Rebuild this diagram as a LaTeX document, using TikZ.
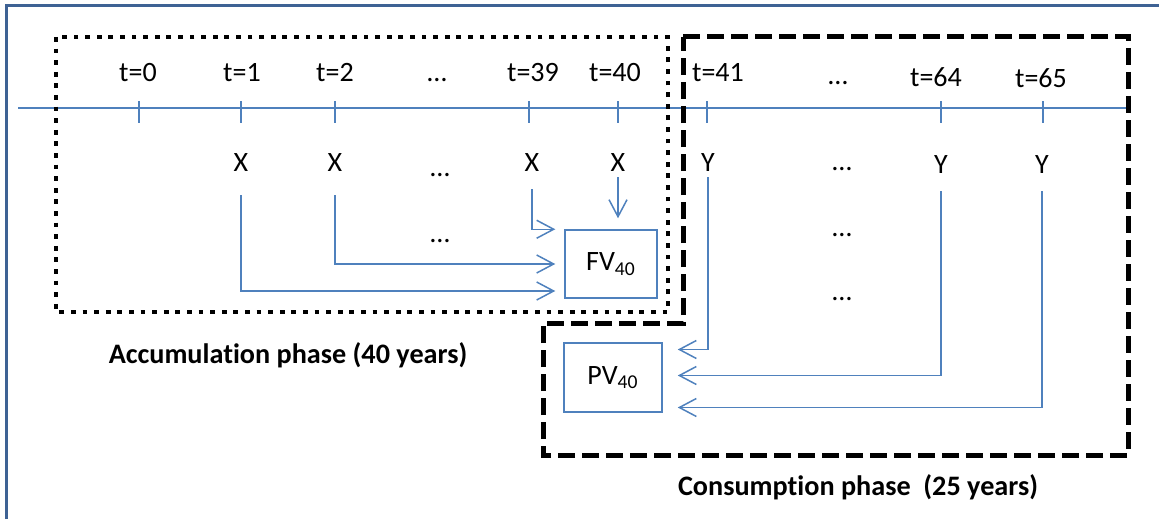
\documentclass[tikz,border=0pt]{standalone}
\usepackage{fontspec}
\setmainfont[Ligatures={TeX,NoCommon}]{Carlito}
\usepackage{xcolor}
\usepackage{tikz}
\usetikzlibrary{arrows.meta,calc}
\definecolor{flowblue}{RGB}{79,129,189}
\definecolor{frameblue}{RGB}{62,98,148}

\begin{document}
\begin{tikzpicture}[x=0.5pt,y=-0.5pt,
    lbl/.style={anchor=base,inner sep=0pt,font=\fontsize{14}{16}\selectfont},
    phase/.style={anchor=base,inner sep=0pt,font=\bfseries\fontsize{14.1}{16}\selectfont},
    valbox/.style={draw=flowblue,line width=0.75pt,inner sep=0pt,
                   font=\fontsize{14}{16}\selectfont},
    flow/.style={draw=flowblue,line width=0.75pt,shorten <=12pt,
                 -{Straight Barb[length=8.5pt,width=9pt]}},
    accumbox/.style={draw=black,line width=2.4pt,dash pattern=on 2.4pt off 3.4pt},
    consumbox/.style={draw=black,line width=2.5pt,dash pattern=on 8.5pt off 3.5pt}]
    \useasboundingbox (0,0) rectangle (1159,519);
    \draw[frameblue,line width=1.5pt] (6,519) -- (6,6) -- (1159,6);

    \draw[flowblue,line width=0.75pt] (18,108) -- (1128,108);
    \foreach \x in {139,241,335,529,618,707,941,1043}
      \draw[flowblue,line width=0.75pt] (\x,101) -- (\x,123);

    \node[lbl] (t0)  at (138,82)  {t=0};
    \node[lbl] (t1)  at (242,82)  {t=1};
    \node[lbl] (t2)  at (335,82)  {t=2};
    \node[lbl] (d1)  at (437,82)  {\ldots};
    \node[lbl] (t39) at (533,82)  {t=39};
    \node[lbl] (t40) at (615,82)  {t=40};
    \node[lbl] (t41) at (718,82)  {t=41};
    \node[lbl] (d2)  at (838,84)  {\ldots};
    \node[lbl] (t64) at (936,87)  {t=64};
    \node[lbl] (t65) at (1041,88) {t=65};

    \node[lbl] (x1)  at (241,171) {X};
    \node[lbl] (x2)  at (335,171) {X};
    \node[lbl] (d3)  at (440,176) {\ldots};
    \node[lbl] (x39) at (532,171) {X};
    \node[lbl] (x40) at (618,171) {X};
    \node[lbl] (y41) at (708,171) {Y};
    \node[lbl] (d4)  at (842,170) {\ldots};
    \node[lbl] (y64) at (941,173) {Y};
    \node[lbl] (y65) at (1042,173) {Y};

    \node[lbl] (d5) at (440,242) {\ldots};
    \node[lbl] (d6) at (842,236) {\ldots};
    \node[lbl] (d7) at (842,300) {\ldots};

    \node[valbox,minimum width=46pt,minimum height=34pt] (fv) at (611,264) {FV\textsubscript{40}};
    \node[valbox,minimum width=49pt,minimum height=34.5pt] (pv) at (613,377.5) {PV\textsubscript{40}};

    \draw[flow] (x1.south)  |- ($(fv.west)+(-9,27)$);
    \draw[flow] (x2.south)  |- ($(fv.west)+(-9,0)$);
    \draw[flow,shorten <=9pt] (x39.south) |- ($(fv.north west)+(-9,0)$);
    \draw[flow,shorten <=3pt,shorten >=5.5pt] (x40.south) -- (x40.south |- fv.north);
    \draw[flow,shorten <=3pt] (y41.south) |- ($(pv.east)+(15,-28)$);
    \draw[flow,shorten <=9pt] (y64.south) |- ($(pv.east)+(15,-2)$);
    \draw[flow,shorten <=9pt] (y65.south) |- ($(pv.east)+(15,30)$);

    \draw[accumbox] (56,37) rectangle (668,312);
    \draw[consumbox] (683,37) -- (1128,37) -- (1128,455) -- (543,455)
      -- (543,323) -- (683,323) -- cycle;

    \node[phase] (accum)  at (288,363) {Accumulation phase (40 years)};
    \node[phase] (consum) at (858,495) {Consumption phase\ \ (25 years)};
  \end{tikzpicture}
\end{document}
